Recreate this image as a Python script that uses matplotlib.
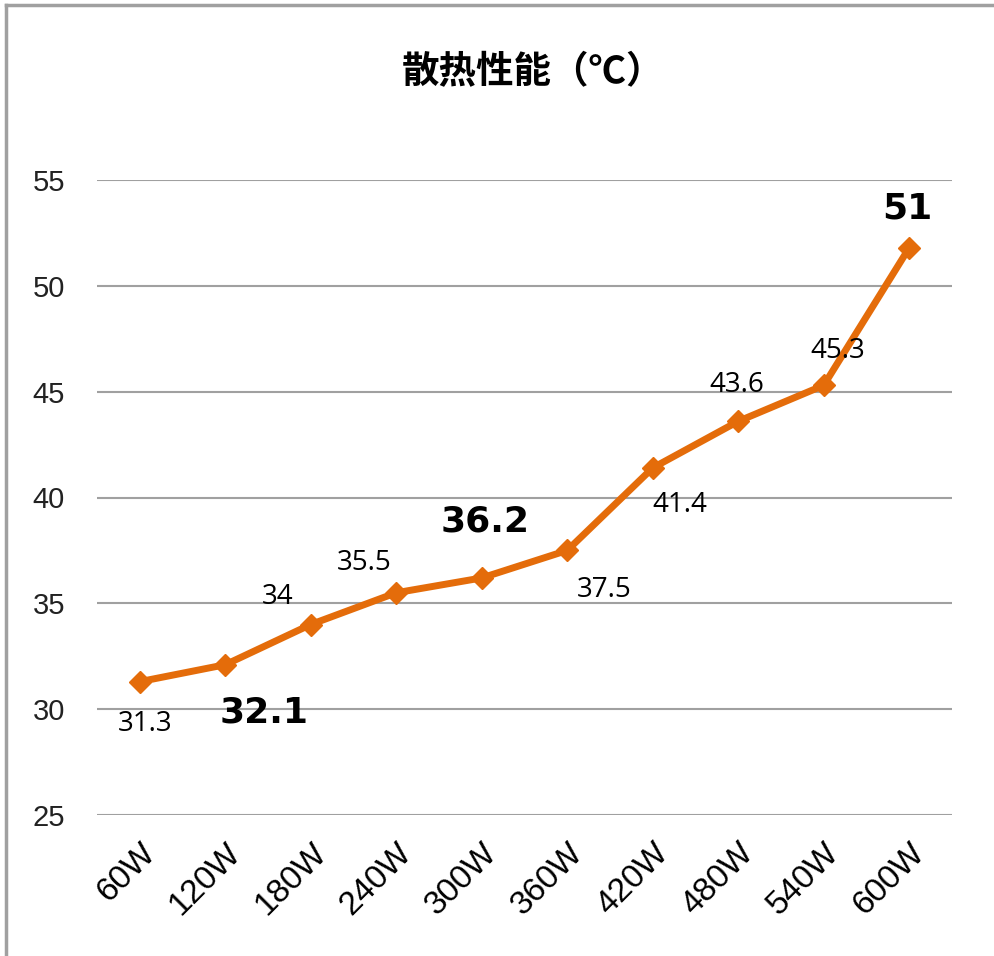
import matplotlib
matplotlib.use("Agg")
import matplotlib.pyplot as plt
from matplotlib.lines import Line2D
from matplotlib import font_manager

plt.rcParams['font.family'] = ['Noto Sans CJK SC', 'DejaVu Sans']

# ===== 数据 =====
categories = ["60W", "120W", "180W", "240W", "300W", "360W", "420W", "480W", "540W", "600W"]
temps = [31.3, 32.1, 34.0, 35.5, 36.2, 37.5, 41.4, 43.6, 45.3, 51.8]
value_labels = ["31.3", "32.1", "34", "35.5", "36.2", "37.5", "41.4", "43.6", "45.3", "51"]
bold_labels = [False, True, False, False, True, False, False, False, False, True]

# 标签偏移 (像素, 向上为正)
label_offsets = [(5, -42), (39, -48), (-33, 27), (-32, 30), (3, 56),
                 (37, -40), (27, -37), (-1, 36), (14, 34), (-2, 39)]

ORANGE = "#E46C0A"
W, H = 995, 956

names = {f.name for f in font_manager.fontManager.ttflist}
narrow = [n for n in ["Liberation Sans Narrow", "DejaVu Sans Condensed"] if n in names]
narrow = narrow[:1] + ["Liberation Sans", "DejaVu Sans"]
print(narrow)

fig = plt.figure(figsize=(W / 100, H / 100), dpi=100)
ax = fig.add_axes([97 / W, 141 / H, 855 / W, 635 / H])

x = list(range(len(categories)))
ax.plot(x, temps, color=ORANGE, lw=5, marker="D", markersize=11,
        solid_joinstyle="round", zorder=3)

ax.set_xlim(-0.5, len(categories) - 0.5)
ax.set_ylim(25, 55)
ax.set_yticks([25, 30, 35, 40, 45, 50, 55])
ax.yaxis.grid(True, color="#a0a0a0", lw=1.5)
ax.set_axisbelow(True)
for s in ax.spines.values():
    s.set_visible(False)
ax.tick_params(length=0)
ax.tick_params(axis="y", pad=23)
ax.tick_params(axis="x", pad=16)
ax.set_xticks(x)
ax.set_xticklabels(categories, rotation=45, ha="right", rotation_mode="anchor")

for t in ax.get_yticklabels():
    t.set_family(narrow)
    t.set_fontsize(21)
    t.set_color("#222222")
for t in ax.get_xticklabels():
    t.set_family(narrow)
    t.set_fontsize(24)

# 数据标签
for i, (v, lab, b, off) in enumerate(zip(temps, value_labels, bold_labels, label_offsets)):
    ax.annotate(lab, (i, v), xytext=(off[0] * 0.72, off[1] * 0.72),
                textcoords="offset points", ha="center", va="center",
                fontsize=26 if b else 20, fontweight="bold" if b else "normal",
                family=["DejaVu Sans"] if b else ["Open Sans", "DejaVu Sans"],
                color="black", zorder=4)

fig.text(533 / W, 1 - 72 / H, "散热性能（℃）", ha="center", va="center",
         fontsize=27, fontweight="bold")

# 外框
fig.add_artist(Line2D([6 / W, 6 / W], [0, 1 - 5 / H], color="#a0a0a0", lw=2.5,
                      transform=fig.transFigure))
fig.add_artist(Line2D([6 / W, 1], [1 - 5 / H, 1 - 5 / H], color="#a0a0a0", lw=2.5,
                      transform=fig.transFigure))

fig.savefig("out.png", dpi=100)
